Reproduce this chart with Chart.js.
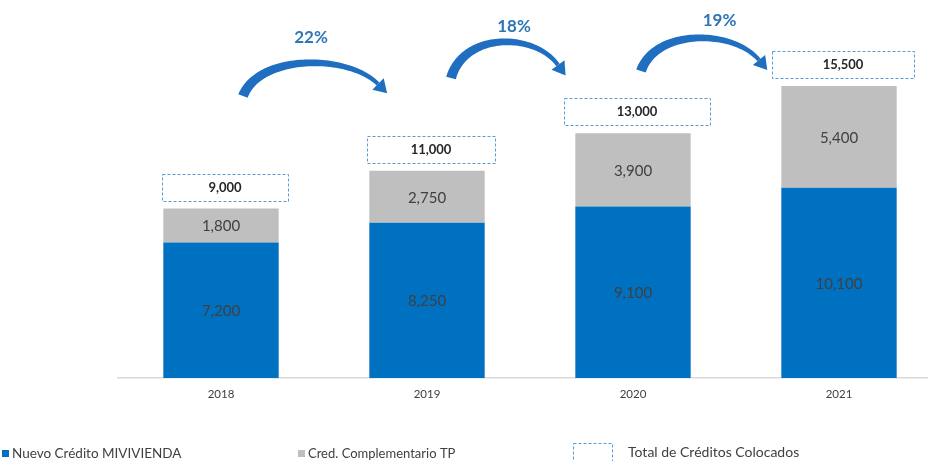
<!DOCTYPE html>
<html>
<head>
<meta charset="utf-8">
<script src="https://cdn.jsdelivr.net/npm/chart.js@4"></script>
<style>
    html, body { margin: 0; padding: 0; background: #fff; overflow: hidden; }
    #wrap { position: relative; width: 942px; height: 461px; }
</style>
</head>
<body>
<div id="wrap"><canvas id="creditChart"></canvas></div>
<script>
// Créditos colocados por año

const years = ['2018', '2019', '2020', '2021'];
const nuevoCredito = [7200, 8250, 9100, 10100];
const credComplementario = [1800, 2750, 3900, 5400];
const totalColocados = [9000, 11000, 13000, 15500];
const growthLabels = ['22%', '18%', '19%'];

const FONT = 'Lato, "Open Sans", sans-serif';
const BLUE = '#0070c0';
const GRAY = '#bfbfbf';

// box widths around the totals, and arrow placement (relative to bar centres / chart top)
const boxWidths = [126, 128, 146, 142];
const arrowStyle = [
    { tailDx: 22, tipDx: -40, baseY: 57, tipY: 54, peakY: 24, textDx: -4, textY: -1 },
    { tailDx: 24, tipDx: -66, baseY: 39, tipY: 35, peakY: 3, textDx: 5, textY: -12 },
    { tailDx: 8, tipDx: -71, baseY: 32, tipY: 30, peakY: -1, textDx: 15, textY: -18 }
];

const fmt = v => v.toLocaleString('en-US');

function drawArrow(ctx, x0, y0, x1, y1, peakY) {
    const ex = x1 - 9, ey = y1 - 9;
    const w = ex - x0;
    const c1x = x0 + 0.12 * w, c2x = ex - 0.22 * w;
    const cy = (8 * peakY - y0 - ey) / 6;
    const c1y = cy, c2y = cy;
    const left = [], right = [];
    const steps = 60;
    for (let i = 0; i <= steps; i++) {
        const t = i / steps, u = 1 - t;
        const px = u * u * u * x0 + 3 * u * u * t * c1x + 3 * u * t * t * c2x + t * t * t * ex;
        const py = u * u * u * y0 + 3 * u * u * t * c1y + 3 * u * t * t * c2y + t * t * t * ey;
        let dx = 3 * u * u * (c1x - x0) + 6 * u * t * (c2x - c1x) + 3 * t * t * (ex - c2x);
        let dy = 3 * u * u * (c1y - y0) + 6 * u * t * (c2y - c1y) + 3 * t * t * (ey - c2y);
        const len = Math.hypot(dx, dy) || 1;
        dx /= len; dy /= len;
        const hw = (10 - 6 * t) / 2;
        left.push([px - dy * hw, py + dx * hw]);
        right.push([px + dy * hw, py - dx * hw]);
    }
    ctx.beginPath();
    ctx.moveTo(left[0][0], left[0][1]);
    left.forEach(p => ctx.lineTo(p[0], p[1]));
    for (let i = right.length - 1; i >= 0; i--) ctx.lineTo(right[i][0], right[i][1]);
    ctx.closePath();
    ctx.fill();

    // head
    let tx = ex - c2x, ty = ey - c2y;
    const tl = Math.hypot(tx, ty);
    tx /= tl; ty /= tl;
    const hw = 8, hl = 13;
    ctx.beginPath();
    ctx.moveTo(ex - ty * hw, ey + tx * hw);
    ctx.lineTo(ex + tx * hl, ey + ty * hl);
    ctx.lineTo(ex + ty * hw, ey - tx * hw);
    ctx.closePath();
    ctx.fill();
}

const labelsPlugin = {
    id: 'labels',
    afterDatasetsDraw(chart) {
        const ctx = chart.ctx;
        const yScale = chart.scales.y;
        const xScale = chart.scales.x;
        ctx.save();

        // values inside segments
        ctx.font = '15px ' + FONT;
        ctx.fillStyle = '#404040';
        ctx.textAlign = 'center';
        ctx.textBaseline = 'middle';
        chart.data.datasets.forEach((ds, di) => {
            chart.getDatasetMeta(di).data.forEach((bar, i) => {
                ctx.fillText(fmt(ds.data[i]), bar.x, (bar.y + bar.base) / 2 + 1);
            });
        });

        // dashed total boxes
        totalColocados.forEach((t, i) => {
            const x = xScale.getPixelForValue(i);
            const bottom = yScale.getPixelForValue(t) - 8;
            const top = bottom - 27;
            const w = boxWidths[i];
            ctx.fillStyle = '#fff';
            ctx.fillRect(x - w / 2 + 4, top, w, 27);
            ctx.setLineDash([3, 2]);
            ctx.strokeStyle = '#5b9bd5';
            ctx.lineWidth = 1;
            ctx.strokeRect(Math.round(x - w / 2 + 4) + 0.5, Math.round(top) + 0.5, w, 27);
            ctx.setLineDash([]);
            ctx.fillStyle = '#262626';
            ctx.font = 'bold 13px ' + FONT;
            ctx.fillText(fmt(t), x + 4, top + 14);
        });

        // growth arrows
        const top = chart.chartArea.top;
        growthLabels.forEach((g, i) => {
            const s = arrowStyle[i];
            const c0 = xScale.getPixelForValue(i);
            const c1 = xScale.getPixelForValue(i + 1);
            const x0 = c0 + s.tailDx, x1 = c1 + s.tipDx;
            ctx.fillStyle = '#1f6ebf';
            drawArrow(ctx, x0, top + s.baseY, x1, top + s.tipY, top + s.peakY);
            ctx.fillStyle = '#2e75b6';
            ctx.font = 'bold 17px ' + FONT;
            ctx.fillText(g, (x0 + x1) / 2 + s.textDx, top + s.textY);
        });

        ctx.restore();
    },
    afterDraw(chart) {
        // legend along the bottom edge
        const ctx = chart.ctx;
        ctx.save();
        ctx.font = '13.5px ' + FONT;
        ctx.textBaseline = 'alphabetic';
        ctx.textAlign = 'left';
        const ds = chart.data.datasets;
        ctx.fillStyle = ds[0].backgroundColor;
        ctx.fillRect(2, 450, 7, 7);
        ctx.fillStyle = '#404040';
        ctx.fillText(ds[0].label, 12, 458);
        ctx.fillStyle = ds[1].backgroundColor;
        ctx.fillRect(298, 450, 7, 7);
        ctx.fillStyle = '#404040';
        ctx.font = '13px ' + FONT;
        ctx.fillText(ds[1].label, 308, 458);
        ctx.setLineDash([3, 2]);
        ctx.strokeStyle = '#5b9bd5';
        ctx.strokeRect(573.5, 443.5, 39, 24);
        ctx.setLineDash([]);
        ctx.font = '14px ' + FONT;
        ctx.fillText('Total de Créditos Colocados', 628, 457);
        ctx.restore();
    }
};

const ctx = document.getElementById('creditChart').getContext('2d');
new Chart(ctx, {
    type: 'bar',
    data: {
        labels: years,
        datasets: [
            {
                label: 'Nuevo Crédito MIVIVIENDA',
                data: nuevoCredito,
                backgroundColor: BLUE
            },
            {
                label: 'Cred. Complementario TP',
                data: credComplementario,
                backgroundColor: GRAY
            }
        ]
    },
    options: {
        responsive: true,
        maintainAspectRatio: false,
        animation: false,
        categoryPercentage: 1,
        barPercentage: 0.56,
        layout: { padding: { left: 118, right: 0, top: 39, bottom: 53 } },
        plugins: {
            legend: { display: false },
            tooltip: { enabled: false }
        },
        scales: {
            x: {
                stacked: true,
                grid: { display: false, drawTicks: false },
                border: { display: true, color: '#d9d9d9', width: 1.5 },
                ticks: { color: '#404040', font: { family: FONT, size: 11.5 }, padding: 9 },
                afterFit: s => { s.height = 30; }
            },
            y: {
                stacked: true,
                display: false,
                min: 0,
                max: 18000
            }
        }
    },
    plugins: [labelsPlugin]
});
</script>
</body>
</html>
